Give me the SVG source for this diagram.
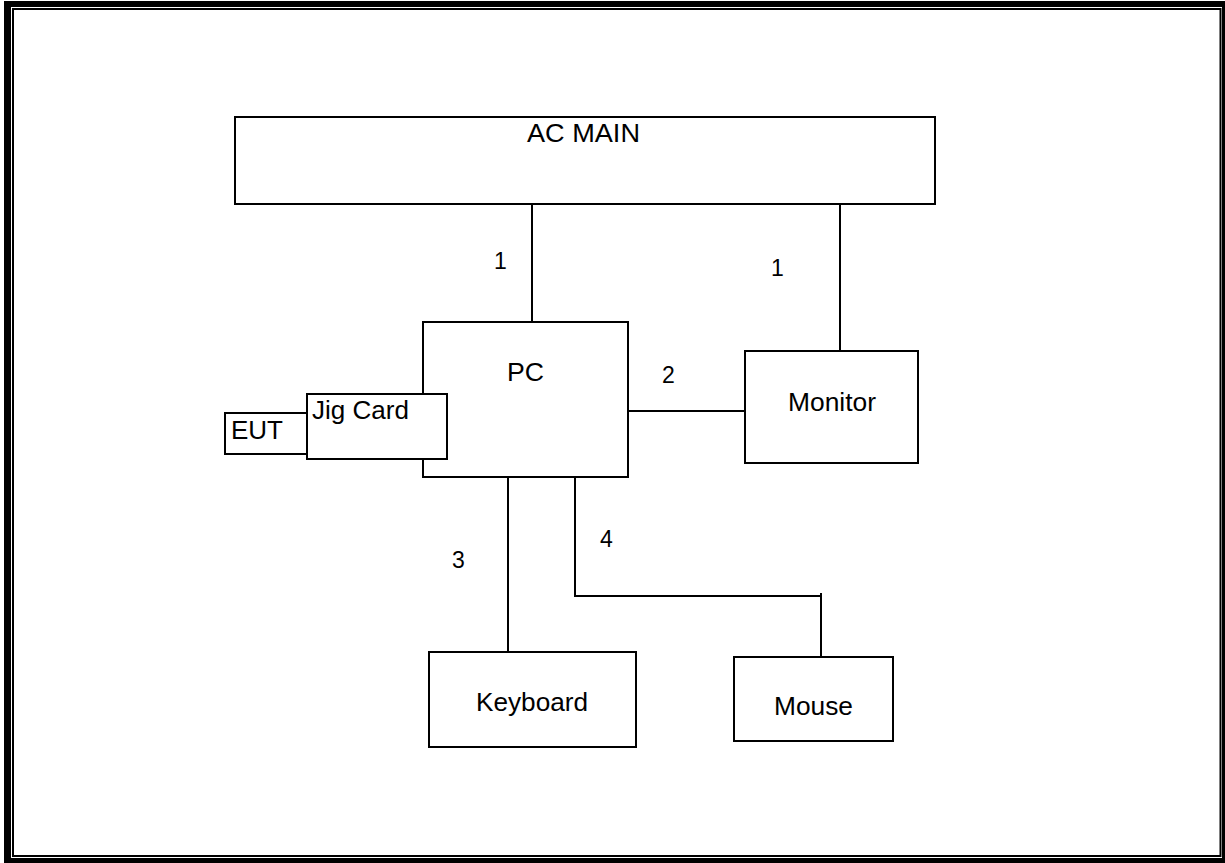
<svg xmlns="http://www.w3.org/2000/svg" width="1225" height="863" viewBox="0 0 1225 863">
<style>
.box{fill:#fff;stroke:#000;stroke-width:2}
.ln{fill:none;stroke:#000;stroke-width:2}
.t{font-family:"Liberation Sans",Arial,sans-serif;font-size:25px;fill:#000}
.n{font-family:"Liberation Sans",Arial,sans-serif;font-size:23px;fill:#000}
</style>
<rect width="1225" height="863" fill="#fff"/>
<g id="frame">
<rect x="4" y="1" width="1221" height="6" fill="#000"/>
<rect x="4" y="1" width="7" height="862" fill="#000"/>
<rect x="1222" y="1" width="3" height="862" fill="#000"/>
<rect x="4" y="858" width="1221" height="5" fill="#000"/>
<rect x="13" y="9" width="1207.5" height="847" fill="none" stroke="#000" stroke-width="2"/>
</g>
<g id="connectors">
<line class="ln" x1="532" y1="204" x2="532" y2="322"/>
<line class="ln" x1="840" y1="204" x2="840" y2="351"/>
<line class="ln" x1="628" y1="411" x2="745" y2="411"/>
<line class="ln" x1="508" y1="477" x2="508" y2="652"/>
<polyline class="ln" points="575,477 575,596 821,596"/>
<line class="ln" x1="821" y1="593" x2="821" y2="657"/>
<text class="n" x="494" y="269">1</text>
<text class="n" x="771" y="276">1</text>
<text class="n" x="662" y="383">2</text>
<text class="n" x="452" y="568">3</text>
<text class="n" x="600" y="547">4</text>
</g>
<g id="acmain">
<rect class="box" x="235" y="117" width="700" height="87"/>
<text class="t" x="527" y="142" textLength="113" lengthAdjust="spacingAndGlyphs">AC MAIN</text>
</g>
<g id="pc">
<rect class="box" x="423" y="322" width="205" height="155"/>
<text class="t" x="507" y="381" textLength="37" lengthAdjust="spacingAndGlyphs">PC</text>
</g>
<g id="eut">
<rect class="box" x="225" y="413" width="82" height="41"/>
<text class="t" x="231" y="439" textLength="52" lengthAdjust="spacingAndGlyphs">EUT</text>
</g>
<g id="jigcard">
<rect class="box" x="307" y="394" width="140" height="65"/>
<text class="t" x="312" y="419" textLength="97" lengthAdjust="spacingAndGlyphs">Jig Card</text>
</g>
<g id="monitor">
<rect class="box" x="745" y="351" width="173" height="112"/>
<text class="t" x="788" y="411" textLength="88" lengthAdjust="spacingAndGlyphs">Monitor</text>
</g>
<g id="keyboard">
<rect class="box" x="429" y="652" width="207" height="95"/>
<text class="t" x="476" y="711" textLength="112" lengthAdjust="spacingAndGlyphs">Keyboard</text>
</g>
<g id="mouse">
<rect class="box" x="734" y="657" width="159" height="84"/>
<text class="t" x="774" y="715" textLength="79" lengthAdjust="spacingAndGlyphs">Mouse</text>
</g>
</svg>
